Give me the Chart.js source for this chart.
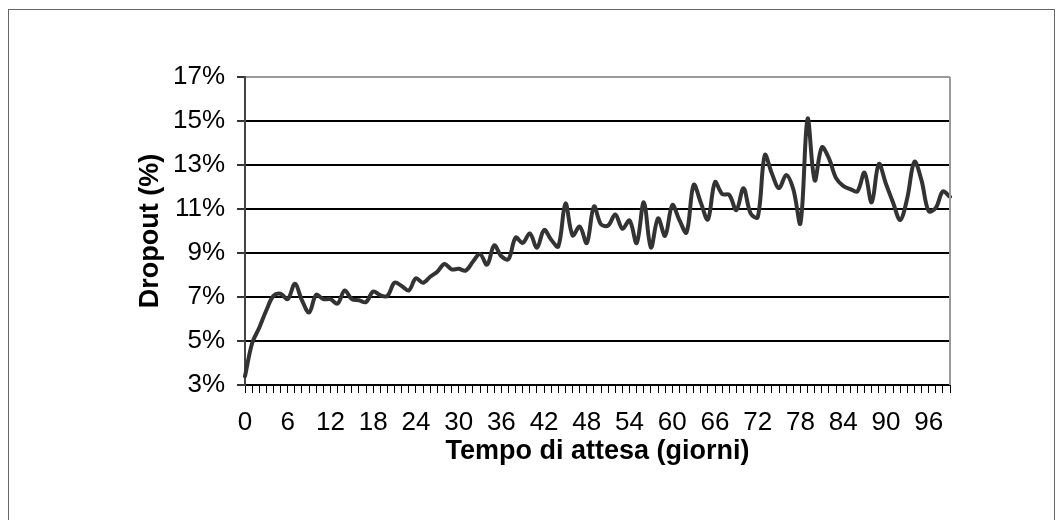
<!DOCTYPE html>
<html>
<head>
<meta charset="utf-8">
<script src="https://cdn.jsdelivr.net/npm/chart.js@4/dist/chart.umd.min.js"></script>
<style>
  html, body { margin: 0; padding: 0; background: #fff; }
  #wrap { position: relative; width: 1063px; height: 520px; overflow: hidden; }
  #frame { position: absolute; left: 8px; top: 9px; width: 1045px; height: 530px; border: 1px solid #666; pointer-events: none; }
</style>
</head>
<body>
<div id="wrap">
  <canvas id="chart" width="1063" height="520"></canvas>
  <div id="frame"></div>
</div>
<script>
// giorni di attesa (categorie)
const days = [
  0, 1, 2, 3, 4, 5, 6, 7, 8, 9, 10, 11, 12, 13, 14, 15, 16, 17, 18, 19,
  20, 21, 22, 23, 24, 25, 26, 27, 28, 29, 30, 31, 32, 33, 34, 35, 36, 37, 38, 39,
  40, 41, 42, 43, 44, 45, 46, 47, 48, 49, 50, 51, 52, 53, 54, 55, 56, 57, 58, 59,
  60, 61, 62, 63, 64, 65, 66, 67, 68, 69, 70, 71, 72, 73, 74, 75, 76, 77, 78, 79,
  80, 81, 82, 83, 84, 85, 86, 87, 88, 89, 90, 91, 92, 93, 94, 95, 96, 97, 98, 99
];

// dropout in %
const dropout = [
  3.4, 4.9, 5.6, 6.4, 7.05, 7.15, 6.9, 7.6, 6.85, 6.3,
  7.1, 6.9, 6.9, 6.7, 7.3, 6.9, 6.85, 6.77, 7.25, 7.08,
  7.05, 7.65, 7.5, 7.3, 7.85, 7.65, 7.92, 8.15, 8.5, 8.26,
  8.28, 8.2, 8.6, 8.95, 8.47, 9.35, 8.85, 8.72, 9.7, 9.46,
  9.89, 9.24, 10.05, 9.6, 9.3, 11.25, 9.8, 10.2, 9.45, 11.12,
  10.3, 10.25, 10.75, 10.1, 10.48, 9.45, 11.3, 9.25, 10.58, 9.78,
  11.18, 10.5, 9.93, 12.1, 11.3, 10.52, 12.22, 11.68, 11.64, 10.95,
  11.94, 10.8, 10.62, 13.45, 12.6, 11.95, 12.55, 11.9, 10.35, 15.1,
  12.3, 13.8, 13.3, 12.4, 12.05, 11.9, 11.8, 12.65, 11.3, 13.05,
  12.15, 11.3, 10.5, 11.5, 13.15, 12.3, 10.9, 11.05, 11.8, 11.55
];

// etichette degli assi
const xTickLabels = ['0', '6', '12', '18', '24', '30', '36', '42', '48', '54', '60', '66', '72', '78', '84', '90', '96'];
const yTicks = [3, 5, 7, 9, 11, 13, 15, 17];

Chart.defaults.font.family = "'Liberation Sans', Arial, sans-serif";
Chart.defaults.color = '#000';

// bordo destro dell'area del grafico
const plotBorder = {
  id: 'plotBorder',
  afterDraw(chart) {
    const a = chart.chartArea;
    const c = chart.ctx;
    c.save();
    c.strokeStyle = '#9a9a9a';
    c.lineWidth = 2;
    c.beginPath();
    c.moveTo(a.right, a.top);
    c.lineTo(a.right, a.bottom);
    c.stroke();
    c.restore();
  }
};

const ctx = document.getElementById('chart').getContext('2d');
new Chart(ctx, {
  type: 'line',
  data: {
    labels: days,
    datasets: [{
      label: 'Dropout',
      data: dropout,
      borderColor: '#333333',
      borderWidth: 4,
      pointRadius: 0,
      tension: 0.35,
      borderCapStyle: 'round',
      borderJoinStyle: 'round',
      fill: false
    }]
  },
  options: {
    responsive: false,
    animation: false,
    devicePixelRatio: 1,
    layout: { padding: { left: 0, top: 77, right: 113, bottom: 0 } },
    plugins: {
      legend: { display: false },
      tooltip: { enabled: false }
    },
    scales: {
      x: {
        type: 'category',
        offset: false,
        afterFit: function(scale) { scale.height = 135; },
        grid: {
          offset: false,
          drawOnChartArea: false,
          drawTicks: true,
          tickLength: 8,
          tickColor: '#000',
          lineWidth: 1
        },
        border: { color: '#000', width: 2 },
        ticks: {
          autoSkip: false,
          maxRotation: 0,
          padding: 14,
          font: { size: 26 },
          callback: function(value, index) {
            const lbl = String(days[index]);
            return xTickLabels.includes(lbl) ? lbl : '';
          }
        },
        title: {
          display: true,
          text: 'Tempo di attesa (giorni)',
          font: { size: 27, weight: 'bold' },
          padding: { top: 0, bottom: 52 }
        }
      },
      y: {
        min: yTicks[0],
        max: yTicks[yTicks.length - 1],
        afterFit: function(scale) { scale.width = 245; },
        grid: {
          color: function(c) { return c.tick && c.tick.value === yTicks[yTicks.length - 1] ? '#9a9a9a' : '#000'; },
          lineWidth: 2,
          tickLength: 8,
          tickColor: '#333'
        },
        border: { color: '#444', width: 2 },
        ticks: {
          stepSize: yTicks[1] - yTicks[0],
          padding: 12,
          font: { size: 26 },
          callback: function(v) { return v + '%'; }
        },
        title: {
          display: true,
          text: 'Dropout (%)',
          font: { size: 27, weight: 'bold' },
          padding: { top: 134, bottom: 0 }
        }
      }
    }
  },
  plugins: [plotBorder]
});
</script>
</body>
</html>
